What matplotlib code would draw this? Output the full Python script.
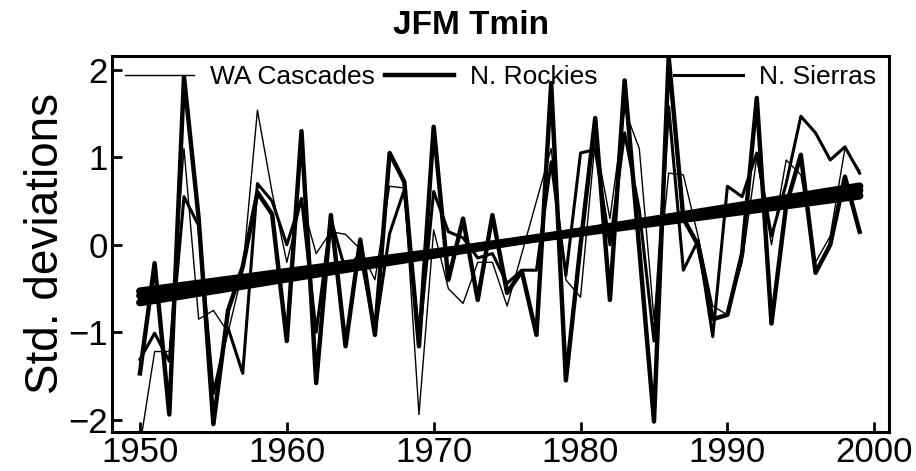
import numpy as np
import matplotlib
matplotlib.use("Agg")
import matplotlib.pyplot as plt

plt.rcParams['font.family'] = ['Liberation Sans', 'DejaVu Sans']

years = np.arange(1950, 2000)

wa_cascades = [-2.3, -1.22, -1.22, 1.1, -0.85, -0.75, -1.0, -0.3, 1.54, 0.6,
               -0.2, 0.5, -0.1, 0.15, 0.12, -0.05, -0.4, 0.67, 0.65, -1.94,
               0.17, -0.5, -0.67, -0.2, -0.2, -0.7, -0.1, 0.5, 1.1, -0.4,
               -0.6, 1.2, 0.3, 1.55, 1.1, -0.85, 0.82, 0.8, 0.1, -0.7,
               -0.8, -0.2, 1.0, 0.0, 0.97, 0.8, -0.2, 0.1, 1.1, 0.85]

n_rockies = [-1.47, -0.21, -1.94, 1.92, 0.3, -2.05, -0.75, -0.25, 0.6, 0.35,
             -1.1, 1.3, -1.58, 0.34, -1.16, 0.06, -1.03, 1.05, 0.72, -1.16,
             1.35, -0.4, 0.3, -0.63, 0.34, -0.55, -0.3, -1.03, 1.85, -1.55,
             0.0, 1.45, -0.63, 1.88, -0.05, -2.02, 2.15, 0.3, 0.0, -0.85,
             -0.8, -0.1, 1.68, -0.9, 0.45, 1.03, -0.32, 0.0, 0.78, 0.15]

n_sierras = [-1.31, -1.01, -1.33, 0.55, 0.22, -1.7, -0.95, -1.47, 0.7, 0.5,
             0.0, 0.53, -1.0, 0.3, -0.3, -0.1, -1.0, 0.13, 0.63, -1.1,
             0.61, 0.15, 0.08, -0.15, -0.1, -0.44, -0.29, -0.29, 0.95, -0.35,
             1.05, 1.09, 0.0, 1.28, 0.4, -1.1, 1.58, -0.29, 0.05, -1.05,
             0.67, 0.55, 1.05, 0.1, 0.7, 1.47, 1.28, 0.97, 1.12, 0.82]

labels = ['WA Cascades', 'N. Rockies', 'N. Sierras']
# linear trend end points (1950, 1999)
trend_start = [-0.53, -0.66, -0.58]
trend_end = [0.56, 0.67, 0.62]

fig = plt.figure(figsize=(9.16, 4.71), dpi=100)
ax = fig.add_axes([0.1223, 0.0828, 0.8482, 0.7985])

series = [wa_cascades, n_rockies, n_sierras]
widths = [1.0, 3.2, 2.2]
handles = []
for vals, lab, lw in zip(series, labels, widths):
    h, = ax.plot(years, vals, color='black', lw=lw, label=lab)
    handles.append(h)

for s, e in zip(trend_start, trend_end):
    ax.plot([years[0], years[-1]], [s, e], color='black', lw=5.5,
            solid_capstyle='round')

ax.set_xlim(1948.1, 2001.0)
ax.set_ylim(-2.14, 2.16)
ax.set_xticks(range(1950, 2001, 10))
ax.set_yticks([-2, -1, 0, 1, 2])
ax.tick_params(direction='in', length=7, width=2, labelsize=25, pad=3)
for sp in ax.spines.values():
    sp.set_linewidth(2.2)

ax.set_ylabel('Std. deviations', fontsize=33, labelpad=0)
ax.set_title('JFM Tmin', fontsize=24, fontweight='bold', pad=16, x=0.462)

leg1 = ax.legend(handles[:2], labels[:2], loc='upper left', frameon=False,
                 ncol=2, fontsize=19, handlelength=2.6, handletextpad=0.6,
                 columnspacing=0.4, borderaxespad=0.1, bbox_to_anchor=(0.0, 1.01))
ax.add_artist(leg1)
ax.legend(handles[2:], labels[2:], loc='upper right', frameon=False,
          fontsize=19, handlelength=2.6, handletextpad=0.6,
          borderaxespad=0.1, bbox_to_anchor=(1.0, 1.01))

fig.savefig('out.png', dpi=100)
